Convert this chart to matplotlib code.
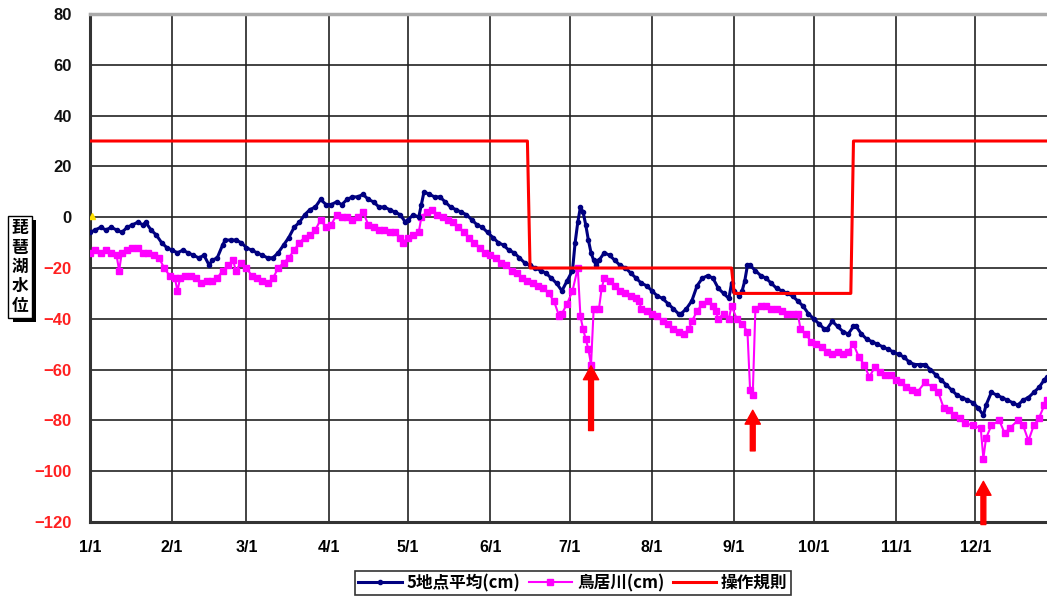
import matplotlib
matplotlib.use("Agg")
import matplotlib.pyplot as plt
import matplotlib.patheffects as pe

plt.rcParams['font.family'] = ['Noto Sans CJK JP', 'DejaVu Sans']

# day of year (1/1 = 0) and level (cm) for the 5-point average
navy_day = [0, 2, 4, 6, 8, 10, 12, 14, 16, 18, 20, 21, 23, 25, 27, 29, 31, 33, 35, 37,
            39, 41, 43, 45, 46, 48, 50, 51, 53, 55, 57, 59, 61, 63, 65, 67, 69, 71, 73, 75,
            77, 79, 81, 83, 85, 87, 89, 91, 93, 95, 97, 99, 101, 103, 105, 107, 109, 111, 113, 115,
            117, 119, 120, 122, 124, 125, 126, 128, 130, 132, 134, 136, 138, 140, 142, 144, 146, 148, 150, 152,
            154, 156, 158, 160, 162, 164, 166, 168, 170, 172, 174, 176, 178, 180, 182, 183, 184, 185, 186, 187,
            188, 189, 190, 191, 192, 194, 196, 198, 200, 202, 204, 206, 208, 210, 212, 214, 216, 218, 220, 222,
            223, 225, 227, 229, 231, 233, 235, 237, 239, 241, 242, 243, 245, 246, 247, 248, 249, 251, 253, 255,
            257, 259, 261, 263, 265, 267, 269, 271, 273, 275, 277, 278, 280, 282, 284, 286, 288, 289, 291, 293,
            295, 297, 299, 301, 303, 305, 307, 309, 311, 313, 315, 317, 319, 321, 323, 325, 327, 329, 331, 333,
            335, 337, 338, 340, 342, 344, 346, 348, 350, 352, 354, 356, 358, 360, 361]
navy_val = [-6, -5, -4, -5, -4, -5, -6, -4, -3, -2, -3, -2, -5, -7, -10, -12, -13, -14, -13, -14,
            -15, -16, -15, -19, -17, -16, -11, -9, -9, -9, -10, -12, -13, -14, -15, -16, -16, -14, -11, -8,
            -4, -2, 1, 3, 4, 7, 5, 5, 6, 5, 7, 8, 8, 9, 7, 6, 4, 4, 3, 2,
            1, -2, -1, 1, 0, 5, 10, 9, 8, 8, 6, 4, 3, 2, 1, -1, -3, -4, -6, -8,
            -10, -11, -13, -14, -16, -18, -19, -20, -21, -22, -24, -26, -29, -25, -21, -10, -2, 4, 2, -3,
            -9, -14, -17, -19, -17, -14, -15, -17, -19, -20, -22, -24, -26, -27, -29, -31, -32, -34, -36, -38,
            -38, -36, -33, -27, -24, -23, -24, -28, -30, -32, -26, -29, -31, -29, -25, -19, -19, -21, -23, -24,
            -26, -28, -29, -30, -31, -33, -35, -38, -40, -42, -44, -44, -41, -43, -45, -46, -43, -43, -46, -48,
            -49, -50, -51, -52, -53, -54, -55, -57, -58, -58, -58, -60, -62, -64, -66, -68, -70, -71, -72, -73,
            -75, -78, -74, -69, -70, -71, -72, -73, -74, -72, -71, -69, -67, -64, -63]

# 鳥居川 level (cm)
pink_day = [0, 2, 4, 6, 8, 10, 11, 12, 14, 16, 18, 20, 22, 24, 26, 28, 30, 32, 33, 34,
            36, 38, 40, 42, 44, 46, 48, 50, 52, 54, 55, 57, 59, 61, 63, 65, 67, 69, 71, 73,
            75, 77, 79, 81, 83, 85, 87, 89, 91, 93, 95, 97, 99, 101, 103, 105, 107, 109, 111, 113,
            115, 117, 118, 120, 122, 124, 125, 127, 129, 131, 133, 135, 137, 139, 141, 143, 145, 147, 149, 151,
            153, 155, 157, 159, 161, 163, 165, 167, 169, 171, 173, 175, 177, 178, 180, 182, 184, 185, 186, 187,
            188, 189, 190, 192, 193, 194, 196, 198, 200, 202, 204, 206, 207, 208, 210, 212, 214, 216, 218, 220,
            222, 224, 226, 227, 229, 231, 233, 235, 236, 237, 239, 241, 242, 244, 246, 248, 249, 250, 251, 253,
            255, 257, 259, 261, 263, 265, 267, 268, 270, 272, 274, 276, 278, 280, 282, 284, 286, 288, 290, 292,
            294, 296, 298, 300, 302, 304, 306, 308, 310, 312, 315, 318, 320, 322, 324, 326, 328, 330, 333, 336,
            337, 338, 340, 343, 345, 347, 350, 352, 354, 356, 358, 360, 361]
pink_val = [-14, -13, -14, -13, -14, -15, -21, -14, -13, -12, -12, -14, -14, -15, -16, -20, -23, -24, -29, -24,
            -23, -23, -24, -26, -25, -25, -24, -21, -19, -17, -21, -18, -20, -23, -24, -25, -26, -24, -20, -18,
            -16, -13, -10, -8, -7, -5, -1, -4, -3, 1, 0, 0, -1, 0, 2, -3, -4, -5, -5, -6,
            -6, -8, -10, -8, -7, -6, 0, 2, 3, 1, 0, -1, -2, -4, -6, -8, -10, -12, -14, -15,
            -16, -18, -19, -21, -22, -24, -25, -26, -27, -28, -30, -33, -39, -38, -34, -29, -20, -39, -44, -48,
            -52, -58, -36, -36, -28, -24, -25, -27, -29, -30, -31, -32, -33, -36, -37, -38, -39, -41, -42, -44,
            -45, -46, -44, -41, -37, -34, -33, -35, -37, -40, -38, -40, -35, -40, -42, -45, -68, -70, -36, -35,
            -35, -36, -36, -37, -38, -38, -38, -44, -46, -49, -50, -51, -53, -54, -53, -54, -53, -50, -55, -58,
            -63, -59, -61, -62, -62, -64, -65, -67, -68, -69, -65, -67, -69, -75, -76, -78, -79, -81, -82, -83,
            -95, -87, -82, -80, -85, -83, -80, -82, -88, -82, -79, -74, -72]

# operation rule (cm)
rule_day = [0, 165, 166, 242, 243, 287, 288, 365]
rule_val = [30, 30, -20, -20, -30, -30, 30, 30]

# red arrows: day, arrow tip, arrow tail
arrow_day = [189, 250, 337]
arrow_tip = [-58.5, -76, -104]
arrow_tail = [-84, -92, -121]

month_pos = [0, 31, 59, 90, 120, 151, 181, 212, 243, 273, 304, 334]
month_lab = ['1/1', '2/1', '3/1', '4/1', '5/1', '6/1', '7/1', '8/1', '9/1', '10/1', '11/1', '12/1']
y_ticks = [-120, -100, -80, -60, -40, -20, 0, 20, 40, 60, 80]
y_lab = ['\u2212120', '\u2212100', '\u221280', '\u221260', '\u221240', '\u221220', '0', '20', '40', '60', '80']

fig = plt.figure(figsize=(10.47, 5.98), dpi=100)
ax = fig.add_axes([90/1047, 1 - 522/598, 1 - 90/1047, (522 - 14)/598])

ax.plot(navy_day, navy_val, color='#000080', lw=2.2, marker='o', ms=3, label='5地点平均(cm)', zorder=4)
ax.plot(pink_day, pink_val, color='#FF00FF', lw=1.5, marker='s', ms=5, label='鳥居川(cm)', zorder=3)
ax.plot(rule_day, rule_val, color='#FF0000', lw=2.2, label='操作規則', zorder=5)
# tiny yellow point at the start
ax.plot([0.8], [0.5], marker='^', color='#FFE000', ms=4, zorder=6)

for d, t, s in zip(arrow_day, arrow_tip, arrow_tail):
    ax.annotate('', xy=(d, t), xytext=(d, s),
                arrowprops=dict(facecolor='#FF0000', edgecolor='#FF0000', width=3.5,
                                headwidth=11, headlength=10), annotation_clip=False, zorder=7)

ax.set_xlim(0, 361)
ax.set_ylim(-120, 80)
ax.set_xticks(month_pos)
ax.set_xticklabels(month_lab, fontsize=11.5, fontweight='bold', family='Liberation Sans')
ax.set_yticks(y_ticks)
ax.set_yticklabels(y_lab, fontsize=12, fontweight='bold', family='Liberation Sans')
for lab, v in zip(ax.get_yticklabels(), y_ticks):
    lab.set_color('#FF2020' if v < 0 else '#111111')
ax.tick_params(length=0, pad=13)
ax.grid(True, color='#222222', lw=1.2)
ax.set_axisbelow(True)

ax.spines['left'].set_linewidth(2.2)
ax.spines['left'].set_color('#333333')
ax.spines['bottom'].set_linewidth(2.2)
ax.spines['bottom'].set_color('#333333')
ax.spines['top'].set_linewidth(2.5)
ax.spines['top'].set_color('#aaaaaa')
ax.spines['right'].set_visible(False)

# vertical y label in a box with a shadow
t = fig.text(20/1047, 1 - 267/598, '\n'.join('琵琶湖水位'), ha='center', va='center',
             fontsize=12, fontweight='bold', linespacing=1.1,
             bbox=dict(boxstyle='square,pad=0.2', fc='white', ec='black', lw=1))
t.get_bbox_patch().set_path_effects([pe.SimplePatchShadow(offset=(3, -3), shadow_rgbFace='black', alpha=1), pe.Normal()])

leg = fig.legend(loc='center', bbox_to_anchor=(573/1047, 1 - 583/598), ncol=3, fontsize=12,
                 frameon=True, fancybox=False, edgecolor='black', handlelength=2.6,
                 columnspacing=0.5, handletextpad=0.3, borderpad=0.2)
leg.get_frame().set_linewidth(1.2)
for txt in leg.get_texts():
    txt.set_fontweight('bold')

plt.savefig('out.png', dpi=100)
